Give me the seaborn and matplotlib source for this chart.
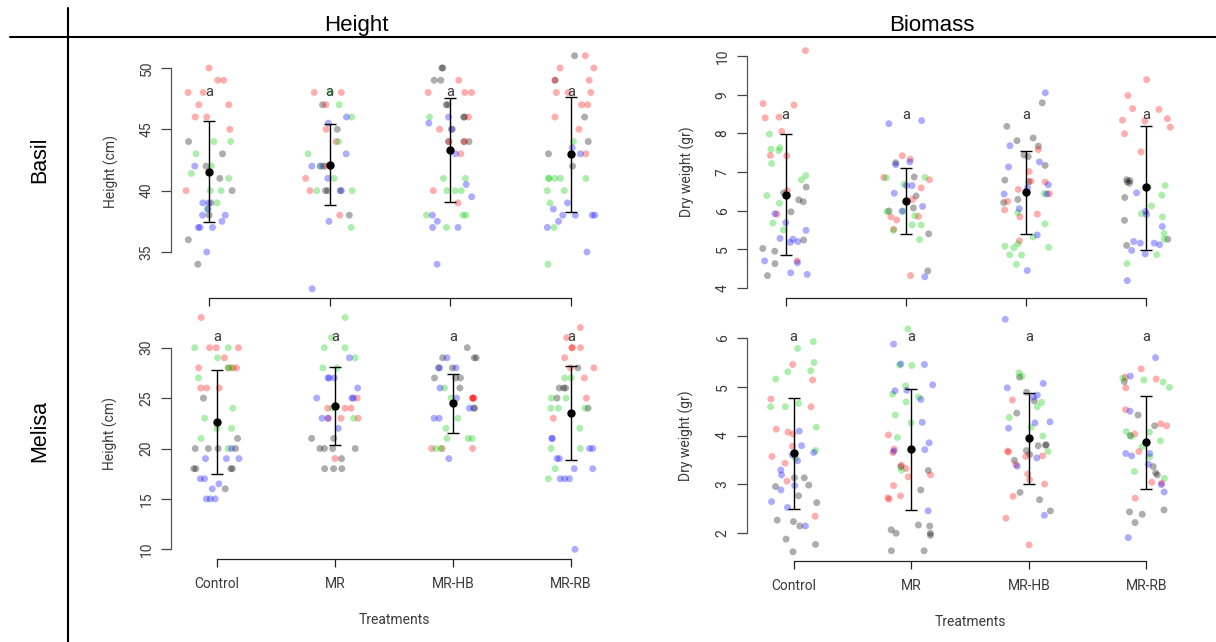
import numpy as np
import pandas as pd
import matplotlib
matplotlib.use("Agg")
import matplotlib.pyplot as plt
from matplotlib.lines import Line2D
import seaborn as sns

# ---------------- data ----------------
treatments = ["Control", "MR", "MR-HB", "MR-RB"]
blocks = ["gray", "red", "green", "blue"]
block_palette = {"gray": "#000000", "red": "#ff0000", "green": "#00cd00", "blue": "#0000ff"}

basil_height = {
    "Control": {"gray": [44, 43, 42, 41, 40, 39, 38, 36, 34],
                "red": [50, 49, 49, 48, 48, 47, 47, 46, 46, 45, 40],
                "green": [44, 44, 43, 42, 41, 41.4, 40, 40, 39, 38.5],
                "blue": [42, 39, 39, 38.5, 38, 38, 37.5, 37, 37, 37, 35]},
    "MR": {"gray": [47, 45, 42, 40, 40, 40, 38],
           "red": [48, 48, 47, 45, 44, 42, 42, 41, 40, 38],
           "green": [48, 47, 46, 44, 43, 42, 41, 40, 40, 37],
           "blue": [46, 45.5, 43, 42, 42, 41, 40, 37.5, 32]},
    "MR-HB": {"gray": [50, 50, 49, 49, 47, 47, 46, 46, 45, 44, 44, 44],
              "red": [49, 48, 48, 48, 46, 45, 44, 44, 43, 40, 39],
              "green": [46, 41, 41, 40, 40, 40, 38, 38, 38, 37],
              "blue": [46, 45.5, 45, 43, 40.5, 39.5, 38, 37.5, 37, 37, 34]},
    "MR-RB": {"gray": [51, 49, 46, 44, 43, 42],
              "red": [51, 50, 50, 49, 49, 48, 48, 48, 47, 47, 46, 45, 43],
              "green": [44, 41, 41, 41, 41, 41, 40, 40, 39, 37, 34],
              "blue": [43.5, 43, 39, 38.5, 38, 38, 38, 38, 37.5, 37, 35]},
}
basil_height_mean = [41.55, 42.12, 43.3, 42.97]
basil_height_low = [37.42, 38.81, 39.05, 38.3]
basil_height_high = [45.7, 45.44, 47.53, 47.6]

basil_biomass = {
    "Control": {"gray": [6.61, 6.46, 6.28, 6.23, 5.97, 5.24, 5.02, 4.95, 4.63, 4.32],
                "red": [10.14, 8.77, 8.73, 8.40, 8.42, 8.05, 7.43, 7.42, 6.51, 5.91, 4.70],
                "green": [7.98, 7.59, 7.55, 7.63, 7.22, 6.91, 6.80, 6.39, 6.19, 5.68, 5.50],
                "blue": [5.92, 5.69, 5.49, 5.28, 5.26, 5.18, 5.20, 4.70, 4.65, 4.35, 4.39]},
    "MR": {"gray": [7.24, 6.87, 6.38, 6.07, 5.99, 5.40, 4.44],
           "red": [7.42, 7.33, 6.86, 6.80, 6.59, 6.29, 5.85, 5.84, 5.76, 5.52, 4.32],
           "green": [6.85, 6.86, 6.68, 5.98, 5.97, 5.87, 5.63, 5.63, 5.49, 5.25],
           "blue": [8.25, 8.33, 7.26, 7.19, 6.65, 6.65, 6.45, 6.11, 5.99, 4.29]},
    "MR-HB": {"gray": [8.79, 8.18, 7.88, 7.81, 7.67, 7.40, 7.44, 7.17, 6.79, 6.75, 6.29, 6.21],
              "red": [7.58, 7.01, 6.74, 6.76, 6.55, 6.44, 6.24, 6.02, 5.91, 5.84, 5.22],
              "green": [6.44, 5.95, 5.66, 5.32, 5.14, 5.08, 5.04, 5.05, 4.85, 4.86, 4.61],
              "blue": [9.05, 7.68, 7.26, 7.13, 6.67, 6.59, 6.43, 6.43, 6.05, 5.37, 4.45]},
    "MR-RB": {"gray": [6.80, 6.74, 6.71, 6.78, 6.34, 5.75, 5.26, 5.10],
              "red": [9.39, 8.98, 8.64, 8.62, 8.38, 8.32, 8.34, 8.16, 7.99, 7.52],
              "green": [6.61, 6.65, 6.40, 6.12, 5.92, 5.84, 5.41, 5.26, 4.86, 4.63],
              "blue": [6.46, 5.98, 5.90, 5.59, 5.20, 5.16, 5.16, 5.12, 4.97, 4.88, 4.19]},
}
basil_biomass_mean = [6.41, 6.25, 6.47, 6.60]
basil_biomass_low = [4.84, 5.40, 5.39, 4.99]
basil_biomass_high = [7.98, 7.10, 7.55, 8.20]

melisa_height = {
    "Control": {"gray": [25, 21, 20, 20, 20, 20, 18, 18, 18, 18, 16],
                "red": [33, 30, 30, 30, 29, 28, 28, 28, 28, 26, 26, 26],
                "green": [30, 30, 29, 28, 28, 27, 24, 23, 22, 22, 21, 20],
                "blue": [20, 19, 19, 19, 17, 17, 16.5, 16, 15, 15, 15]},
    "MR": {"gray": [21, 21, 20, 20, 20, 20, 19, 18, 18, 18],
           "red": [25, 24, 24, 24, 23, 23, 23, 19],
           "green": [33, 31, 30, 30, 29, 28, 28, 24, 23],
           "blue": [29, 27, 27, 27, 26, 25, 25, 25, 23, 23, 22]},
    "MR-HB": {"gray": [30, 29, 29, 29, 28, 28, 27, 27, 27, 26],
              "red": [25, 25, 25, 25, 24, 20, 20, 20],
              "green": [26, 25, 24, 23, 22, 21, 21, 21, 20, 20],
              "blue": [29, 28, 28, 26, 25, 24, 24, 23, 23, 19]},
    "MR-RB": {"gray": [28, 26, 26, 26, 25, 24],
              "red": [32, 31, 30, 30, 30, 29, 28, 28, 27, 25, 23],
              "green": [27, 27, 25, 25, 24, 24, 24, 22, 20, 20, 18, 17],
              "blue": [21, 21, 20, 20, 19, 19, 18, 18, 17, 17, 17, 10]},
}
melisa_height_mean = [22.66, 24.2, 24.48, 23.55]
melisa_height_low = [17.5, 20.35, 21.54, 18.83]
melisa_height_high = [27.82, 28.06, 27.42, 28.21]

melisa_biomass = {
    "Control": {"gray": [3.13, 3.13, 2.98, 2.95, 2.76, 2.62, 2.26, 2.23, 2.14, 1.87, 1.76, 1.61],
                "red": [5.46, 5.14, 4.75, 4.59, 4.13, 4.07, 4.03, 3.78, 3.57, 3.43, 3.06, 2.34],
                "green": [5.93, 5.79, 5.50, 5.33, 5.31, 5.16, 4.66, 4.59, 4.59, 4.17, 3.69, 3.53],
                "blue": [4.09, 3.79, 3.65, 3.60, 3.48, 3.29, 3.19, 2.97, 2.88, 2.64, 2.52, 2.14]},
    "MR": {"gray": [3.36, 3.28, 2.88, 2.16, 2.14, 2.06, 1.99, 1.95, 1.99, 1.63, 1.63],
           "red": [4.01, 3.72, 3.65, 3.39, 3.32, 3.19, 3.15, 2.97, 2.76, 2.72, 2.69],
           "green": [6.19, 5.44, 5.45, 5.02, 4.85, 4.79, 4.69, 4.42, 4.26, 3.96, 3.29],
           "blue": [5.88, 5.46, 5.47, 5.04, 4.93, 4.92, 4.74, 4.27, 3.85, 3.68, 3.71, 2.45]},
    "MR-HB": {"gray": [5.20, 4.89, 4.71, 4.46, 3.81, 3.79, 3.80, 3.69, 3.61, 3.49, 2.83, 2.68, 2.45],
              "red": [4.73, 3.68, 3.66, 3.57, 3.58, 3.40, 3.21, 3.09, 3.00, 2.75, 2.30, 1.75],
              "green": [5.22, 5.29, 4.68, 4.59, 4.37, 4.17, 3.99, 3.67],
              "blue": [6.39, 5.07, 4.98, 4.83, 4.79, 4.28, 4.26, 4.15, 3.54, 3.37, 2.36]},
    "MR-RB": {"gray": [5.11, 4.42, 4.20, 4.00, 3.36, 3.23, 3.19, 2.47, 2.38, 2.43, 2.21],
              "red": [5.37, 5.20, 5.16, 4.98, 4.53, 4.20, 4.24, 4.03, 3.67, 3.02, 3.04, 2.71],
              "green": [5.14, 5.10, 5.18, 4.99, 4.07, 3.98, 3.89, 4.08, 3.77, 3.56, 3.26, 3.12],
              "blue": [5.60, 5.22, 4.50, 3.63, 3.63, 3.58, 3.41, 2.99, 2.84, 1.90]},
}
melisa_biomass_mean = [3.63, 3.72, 3.94, 3.86]
melisa_biomass_low = [2.49, 2.47, 3.00, 2.89]
melisa_biomass_high = [4.77, 4.96, 4.87, 4.82]

col_titles = ["Height", "Biomass"]
row_titles = ["Basil", "Melisa"]
y_labels = ["Height (cm)", "Dry weight (gr)"]
x_label = "Treatments"
letters = ["a", "a", "a", "a"]

# ---------------- style ----------------
sns.set_theme(style="ticks")
plt.rcParams["font.family"] = ["Roboto", "DejaVu Sans"]
TXT = "#3a3a3a"
HEAD = ["Liberation Sans", "DejaVu Sans"]

W, H = 1216, 642
fig = plt.figure(figsize=(W / 100, H / 100), dpi=100)


def rect(x0, y0, x1, y1):
    return [x0 / W, 1 - y1 / H, (x1 - x0) / W, (y1 - y0) / H]


def to_long(d):
    rows = []
    for t in treatments:
        for b in blocks:
            for v in d[t][b]:
                rows.append((t, b, v))
    return pd.DataFrame(rows, columns=["treatment", "block", "value"])


panels = [
    dict(data=basil_height, mean=basil_height_mean, lo=basil_height_low, hi=basil_height_high,
         rect=rect(171, 46, 609, 298), ylim=(31.25, 51.79), xpad=0.315,
         yticks=[35, 40, 45, 50], ylabel=y_labels[0], letter_y=48.0, bottom=False),
    dict(data=basil_biomass, mean=basil_biomass_mean, lo=basil_biomass_low, hi=basil_biomass_high,
         rect=rect(747, 46, 1185, 298), ylim=(3.74, 10.26), xpad=0.322,
         yticks=[4, 5, 6, 7, 8, 9, 10], ylabel=y_labels[1], letter_y=8.48, bottom=False),
    dict(data=melisa_height, mean=melisa_height_mean, lo=melisa_height_low, hi=melisa_height_high,
         rect=rect(171, 309, 617, 559), ylim=(9.04, 33.84), xpad=0.39,
         yticks=[10, 15, 20, 25, 30], ylabel=y_labels[0], letter_y=31.06, bottom=True),
    dict(data=melisa_biomass, mean=melisa_biomass_mean, lo=melisa_biomass_low, hi=melisa_biomass_high,
         rect=rect(747, 310, 1193, 561), ylim=(1.42, 6.58), xpad=0.397,
         yticks=[2, 3, 4, 5, 6], ylabel=y_labels[1], letter_y=6.03, bottom=True),
]

np.random.seed(7)
for p in panels:
    ax = fig.add_axes(p["rect"])
    df = to_long(p["data"])
    sns.stripplot(data=df, x="treatment", y="value", hue="block", order=treatments,
                  hue_order=blocks, palette=block_palette, jitter=0.2, dodge=False,
                  alpha=0.32, size=5, linewidth=0, legend=False, ax=ax, zorder=2)
    m = np.array(p["mean"])
    lo = np.array(p["lo"])
    hi = np.array(p["hi"])
    ax.errorbar(np.arange(len(treatments)), m, yerr=[m - lo, hi - m], fmt="o",
                color="black", ms=5, elinewidth=1, capsize=4.5, capthick=1, zorder=4)
    for i, lt in enumerate(letters):
        ax.text(i, p["letter_y"], lt, ha="center", va="center", fontsize=10.5,
                color=TXT, zorder=5)

    ax.set_xlim(-p["xpad"], len(treatments) - 1 + p["xpad"])
    ax.set_ylim(*p["ylim"])
    ax.set_yticks(p["yticks"])
    ax.set_xticks(range(len(treatments)))
    for s in ["top", "right"]:
        ax.spines[s].set_visible(False)
    ax.spines["left"].set_bounds(p["yticks"][0], p["yticks"][-1])
    ax.spines["bottom"].set_bounds(0, len(treatments) - 1)
    ax.spines["left"].set_color("#555555")
    ax.spines["bottom"].set_color("#222222")
    for s in ["left", "bottom"]:
        ax.spines[s].set_linewidth(0.9)
    ax.tick_params(axis="y", length=7, width=0.9, color="#444444", pad=5.5,
                   labelsize=10, labelcolor=TXT, labelrotation=90)
    for lab in ax.get_yticklabels():
        lab.set_va("center")
    ax.tick_params(axis="x", length=6, width=0.9, color="#222222", pad=7,
                   labelsize=10, labelcolor=TXT)
    ax.set_ylabel(p["ylabel"], fontsize=10, color=TXT)
    ax.yaxis.set_label_coords(-0.119, 0.5)
    if p["bottom"]:
        ax.set_xticklabels(treatments)
        ax.set_xlabel(x_label, fontsize=10, color=TXT, va="top")
        ax.xaxis.set_label_coords(0.5, -0.215)
    else:
        ax.set_xticklabels([])
        ax.set_xlabel("")
    ax.grid(False)

# strip titles and separator lines
fig.text(356 / W, 1 - 31 / H, col_titles[0], ha="center", va="baseline", fontsize=16,
         family=HEAD, color="black")
fig.text(932 / W, 1 - 31 / H, col_titles[1], ha="center", va="baseline", fontsize=16,
         family=HEAD, color="black")
fig.text(45 / W, 1 - 159.5 / H, row_titles[0], ha="center", va="baseline", rotation=90,
         rotation_mode="anchor", fontsize=15.5, family=HEAD, color="black")
fig.text(45 / W, 1 - 430.5 / H, row_titles[1], ha="center", va="baseline", rotation=90,
         rotation_mode="anchor", fontsize=15.5, family=HEAD, color="black")
fig.add_artist(Line2D([10 / W, 1], [1 - 36.5 / H, 1 - 36.5 / H], color="black", lw=1.5,
                      transform=fig.transFigure))
fig.add_artist(Line2D([68 / W, 68 / W], [1 - 8 / H, 0], color="black", lw=1.5,
                      transform=fig.transFigure))

fig.savefig("out.png", dpi=100, facecolor="white")
